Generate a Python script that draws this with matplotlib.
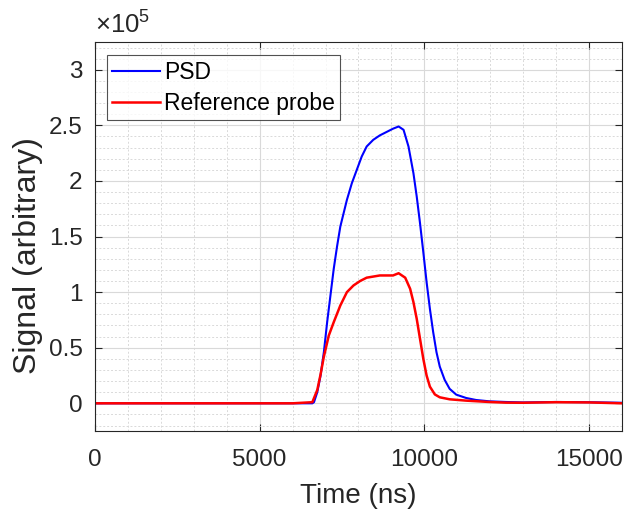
import matplotlib
matplotlib.use("Agg")
import matplotlib.pyplot as plt
from matplotlib.ticker import MultipleLocator

plt.rcParams['font.family'] = ['Liberation Sans', 'DejaVu Sans']
plt.rcParams['mathtext.fontset'] = 'custom'
plt.rcParams['mathtext.rm'] = 'Liberation Sans'

# tempo in ns, segnale in unita' di 1e5
t_psd = [0, 2000, 4000, 6000, 6600, 6650, 6750, 6850, 6950, 7050, 7150, 7250, 7350,
         7450, 7550, 7650, 7800, 7950, 8100, 8250, 8450, 8650, 8850, 9050, 9220,
         9370, 9520, 9670, 9770, 9870, 9970, 10070, 10170, 10270, 10370, 10470,
         10620, 10770, 10970, 11270, 11570, 11970, 12470, 13000, 14000, 15000, 16000]
v_psd = [0, 0, 0, 0, 0, 0.01, 0.10, 0.25, 0.46, 0.73, 0.97, 1.21, 1.41,
         1.59, 1.71, 1.83, 1.98, 2.10, 2.22, 2.31, 2.37, 2.41, 2.44, 2.47, 2.49,
         2.46, 2.31, 2.07, 1.86, 1.62, 1.36, 1.09, 0.85, 0.64, 0.46, 0.33,
         0.21, 0.13, 0.078, 0.048, 0.03, 0.018, 0.012, 0.008, 0.012, 0.01, 0.005]

t_ref = [0, 2000, 4000, 6000, 6600, 6750, 6850, 6950, 7100, 7250, 7450, 7650, 7850,
         8050, 8250, 8650, 9050, 9220, 9420, 9570, 9670, 9770, 9870, 9970, 10070,
         10170, 10320, 10470, 10770, 11270, 11970, 12470, 13000, 14000, 15000, 16000]
v_ref = [0, 0, 0, 0, 0.01, 0.12, 0.26, 0.42, 0.61, 0.73, 0.88, 1.00, 1.06,
         1.10, 1.13, 1.15, 1.15, 1.17, 1.13, 1.03, 0.91, 0.76, 0.58, 0.40, 0.25,
         0.15, 0.08, 0.054, 0.036, 0.024, 0.012, 0.006, 0.005, 0.01, 0.008, 0.0]

fig = plt.figure(figsize=(6.25, 5.12), dpi=100)
ax = fig.add_axes([0.152, 0.158, 0.843, 0.760])

ax.plot(t_psd, v_psd, color=(0, 0, 1), lw=1.5, label='PSD')
ax.plot(t_ref, v_ref, color=(1, 0, 0), lw=1.8, label='Reference probe')

ax.set_xlim(0, 16000)
ax.set_ylim(-0.25, 3.25)
ax.xaxis.set_major_locator(MultipleLocator(5000))
ax.xaxis.set_minor_locator(MultipleLocator(1000))
ax.yaxis.set_major_locator(MultipleLocator(0.5))
ax.yaxis.set_minor_locator(MultipleLocator(0.1))
ax.yaxis.set_major_formatter(lambda v, pos: '%g' % v)

ax.grid(True, which='major', color='#d9d9d9', lw=0.8)
ax.grid(True, which='minor', color='#d9d9d9', lw=0.7, ls=(0, (2, 2)))
ax.set_axisbelow(True)

ax.tick_params(which='both', direction='in', top=True, right=True,
               labelsize=17.5, colors='#262626')
ax.tick_params(which='minor', length=0)
ax.tick_params(which='major', length=5)
ax.tick_params(axis='y', pad=9)
ax.tick_params(axis='x', pad=13)
for s in ax.spines.values():
    s.set_color('#262626')
    s.set_linewidth(0.8)

ax.set_xlabel('Time (ns)', fontsize=20, color='#262626')
ax.set_ylabel('Signal (arbitrary)', fontsize=23, color='#262626')
ax.xaxis.set_label_coords(0.5, -0.133)
ax.yaxis.set_label_coords(-0.099, 0.45)

ax.text(0.0, 1.012, r'$\times10^{5}$', transform=ax.transAxes,
        fontsize=18.5, color='#262626', ha='left', va='bottom')

leg = ax.legend(loc='upper left', fontsize=16.5, frameon=True, fancybox=False,
                bbox_to_anchor=(0.022, 0.967), borderaxespad=0,
                handlelength=2.1, handletextpad=0.15,
                borderpad=0.25, labelspacing=0.35)
leg.get_frame().set_edgecolor('#262626')
leg.get_frame().set_linewidth(0.8)

fig.savefig('out.png', dpi=100)
